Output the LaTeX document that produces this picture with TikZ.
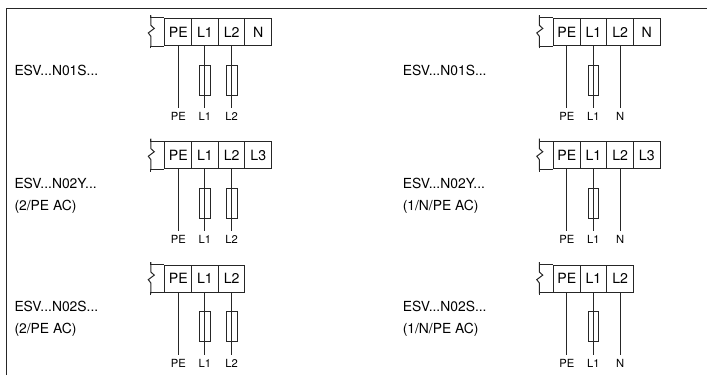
\documentclass[tikz,border=0pt]{standalone}
\usepackage{fontspec}
\setmainfont{TeX Gyre Heros}
\usetikzlibrary{positioning}

\begin{document}
\begin{tikzpicture}[x=0.75pt,y=-0.75pt,node distance=20pt,on grid,line width=0.75pt,color=black!85,text=black,
	cell/.style={draw,minimum width=20pt,minimum height=20.5pt,inner sep=0pt,font=\fontsize{10.6}{12}\selectfont},
	fuse/.style={draw,minimum width=8.2pt,minimum height=22.5pt,inner sep=0pt},
	pin/.style={inner xsep=0pt,inner ysep=3pt,font=\fontsize{8.4}{10}\selectfont},
	type/.style={anchor=west,inner sep=0pt,align=left,font=\fontsize{10.4}{16.5}\selectfont}]
	\useasboundingbox (0,0) rectangle (707,375);
	\coordinate (frameS) at (6.7,375);
	\coordinate (frameC) at (6.7,8);
	\coordinate (frameE) at (707,8);
	\draw (frameS) -- (frameC) -- (frameE);
	\foreach \col/\xpe in {a/178.3,b/566.8}
		\foreach \row/\ycell in {1/32,2/155.3,3/278.7} {
			\node[cell] (PE\col\row) at (\xpe,\ycell) {PE};
			\node[cell,right=of PE\col\row] (L\col\row) {L1};
			\node[cell,right=of L\col\row] (M\col\row) {L2};
			\node[pin,below=63.4pt of PE\col\row] (pPE\col\row) {PE};
			\node[pin,below=63.4pt of L\col\row] (pL\col\row) {L1};
			\node[fuse,below=36pt of L\col\row] (fL\col\row) {};
			\draw (PE\col\row) -- (pPE\col\row);
			\draw (L\col\row) -- (pL\col\row);
			\draw ([shift={(-13.5,-2.4)}]PE\col\row.north west) |- (PE\col\row.north west);
			\draw ([shift={(-13.5,2.2)}]PE\col\row.south west) |- (PE\col\row.south west);
			\draw ([shift={(-13.5,-2.4)}]PE\col\row.north west) -- ++(0,10) -- ++(3.3,3) -- ++(-6,4.5) -- ++(2.7,3.5) -- ++(0,10.5);
		}
	\foreach \col/\row/\last in {a/1/N,a/2/L3,b/1/N,b/2/L3}
		\node[cell,right=of M\col\row] (X\col\row) {\last};
	\foreach \row in {1,2,3} {
		\node[pin,below=63.4pt of Ma\row] (pMa\row) {L2};
		\node[fuse,below=36pt of Ma\row] (fMa\row) {};
		\node[pin,below=63.4pt of Mb\row] (pMb\row) {N};
		\draw (Ma\row) -- (pMa\row);
		\draw (Mb\row) -- (pMb\row);
	}
	\node[type] (ta1) at (14,70.7) {ESV...N01S...};
	\node[type] (ta2) at (14,195.5) {ESV...N02Y...\\(2/PE AC)};
	\node[type] (ta3) at (14,319) {ESV...N02S...\\(2/PE AC)};
	\node[type] (tb1) at (402.3,70.7) {ESV...N01S...};
	\node[type] (tb2) at (402.3,195.5) {ESV...N02Y...\\(1/N/PE AC)};
	\node[type] (tb3) at (402.3,319) {ESV...N02S...\\(1/N/PE AC)};
\end{tikzpicture}
\end{document}
